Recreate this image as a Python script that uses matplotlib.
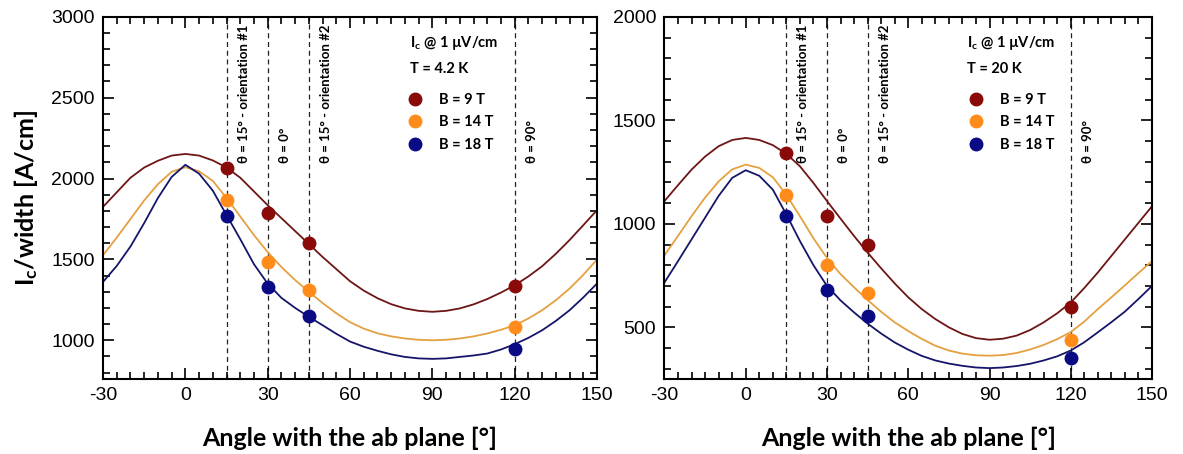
"""Ic/width versus field angle at 4.2 K and 20 K."""

import matplotlib
matplotlib.use("Agg")
import matplotlib.pyplot as plt
from matplotlib.ticker import MultipleLocator

plt.rcParams["font.family"] = ["Liberation Sans", "DejaVu Sans"]
plt.rcParams["axes.unicode_minus"] = False
plt.rcParams["mathtext.fontset"] = "custom"
plt.rcParams["mathtext.rm"] = "Lato"
plt.rcParams["mathtext.bf"] = "Lato:bold"

LABEL_FONT = ["Lato", "DejaVu Sans"]

fields = ["B = 9 T", "B = 14 T", "B = 18 T"]
dot_colors = ["#8a0a0a", "#ff8c1a", "#0a0a85"]
line_colors = ["#6e1515", "#e5a040", "#15156a"]

# measured points
meas_angle = [15, 30, 45, 120]
meas_42K = [
    [2064, 1784, 1599, 1335],
    [1868, 1487, 1308, 1081],
    [1769, 1327, 1153, 947],
]
meas_20K = [
    [1342, 1040, 896, 596],
    [1137, 803, 668, 439],
    [1039, 681, 556, 354],
]

# fitted curves, every 5 degrees from -30 to 150
fit_angle = list(range(-30, 151, 5))
fit_42K = [
    [1825, 1915, 2005, 2068, 2110, 2142, 2152, 2142, 2112, 2068, 2005, 1920, 1835,
     1755, 1675, 1595, 1515, 1440, 1365, 1307, 1260, 1223, 1197, 1182, 1176,
     1182, 1197, 1222, 1255, 1295, 1340, 1395, 1458, 1535, 1620, 1712, 1805],
    [1526, 1635, 1750, 1865, 1965, 2042, 2070, 2045, 1985, 1880, 1765, 1650, 1545,
     1453, 1372, 1300, 1230, 1167, 1112, 1072, 1043, 1024, 1011, 1003, 1000,
     1003, 1011, 1024, 1042, 1065, 1093, 1135, 1186, 1248, 1320, 1405, 1500],
    [1361, 1460, 1580, 1725, 1880, 2010, 2085, 2030, 1925, 1774, 1625, 1470, 1350,
     1262, 1200, 1145, 1093, 1040, 992, 960, 935, 913, 897, 888, 885,
     888, 897, 906, 918, 943, 976, 1015, 1062, 1120, 1186, 1265, 1351],
]
fit_20K = [
    [1110, 1187, 1262, 1325, 1375, 1405, 1415, 1405, 1380, 1338, 1278, 1197, 1110,
     1025, 941, 861, 785, 712, 645, 588, 540, 500, 468, 448, 440,
     445, 460, 487, 524, 568, 620, 690, 765, 845, 925, 1005, 1085],
    [848, 942, 1037, 1127, 1205, 1263, 1286, 1270, 1225, 1140, 1037, 930, 835,
     757, 693, 632, 575, 524, 482, 444, 411, 388, 373, 365, 363,
     366, 376, 393, 415, 443, 477, 528, 588, 645, 703, 762, 820],
    [717, 820, 925, 1030, 1135, 1222, 1259, 1232, 1165, 1045, 917, 800, 700,
     630, 572, 518, 470, 427, 392, 362, 340, 325, 314, 306, 303,
     306, 313, 324, 340, 360, 388, 428, 476, 525, 576, 637, 700],
]

marker_angles = [15, 30, 45, 120]
marker_texts = ["θ = 15° - orientation #1", "θ = 0°", "θ = 15° - orientation #2", "θ = 90°"]

panels = [
    {"fit": fit_42K, "meas": meas_42K, "temp": "T = 4.2 K", "ylim": (760, 3000), "legx": 0.616},
    {"fit": fit_20K, "meas": meas_20K, "temp": "T = 20 K", "ylim": (250, 2000), "legx": 0.624},
]

fig = plt.figure(figsize=(11.83, 4.54), dpi=100)
axes = [
    fig.add_axes([0.0871, 0.165, 0.4176, 0.798]),
    fig.add_axes([0.5617, 0.165, 0.4121, 0.798]),
]

for ax, p in zip(axes, panels):
    for vals, c in zip(p["fit"], line_colors):
        ax.plot(fit_angle, vals, color=c, lw=1.3, zorder=2)
    for vals, c, lab in zip(p["meas"], dot_colors, fields):
        ax.plot(meas_angle, vals, "o", color=c, ms=9, ls="none", label=lab, zorder=3)

    trans = ax.get_xaxis_transform()
    for a, t in zip(marker_angles, marker_texts):
        ax.axvline(a, color="#222222", lw=0.9, ls=(0, (4, 3)), zorder=1)
        ax.annotate(t, xy=(a, 0.596), xycoords=trans, xytext=(8, 0),
                    textcoords="offset points", rotation=90, ha="left", va="bottom",
                    fontsize=9.5, fontweight="bold", family=LABEL_FONT)

    ax.text(0.621, 0.927, r"$\mathbf{I_c}$ @ 1 µV/cm", transform=ax.transAxes,
            ha="left", va="center", fontsize=10.5, fontweight="bold", family=LABEL_FONT)
    ax.text(0.621, 0.856, p["temp"], transform=ax.transAxes,
            ha="left", va="center", fontsize=10.5, fontweight="bold", family=LABEL_FONT)
    ax.legend(loc="upper left", bbox_to_anchor=(p["legx"], 0.79), frameon=False,
              borderpad=0, borderaxespad=0, handlelength=1.0, handletextpad=1.15,
              labelspacing=0.58, prop={"family": LABEL_FONT, "weight": "bold", "size": 10.5})

    ax.set_xlim(-30, 150)
    ax.set_ylim(*p["ylim"])
    ax.xaxis.set_major_locator(MultipleLocator(30))
    ax.xaxis.set_minor_locator(MultipleLocator(5))
    ax.yaxis.set_major_locator(MultipleLocator(500))
    ax.yaxis.set_minor_locator(MultipleLocator(100))
    ax.tick_params(which="both", direction="in", top=True, right=True, width=1.2)
    ax.tick_params(which="major", length=8, labelsize=14, pad=6)
    ax.tick_params(which="minor", length=5)
    for s in ax.spines.values():
        s.set_linewidth(1.5)
    ax.set_xlabel("Angle with the ab plane [°]", fontsize=18, fontweight="bold",
                  family=LABEL_FONT, labelpad=16)

axes[0].set_ylabel(r"$\mathbf{I_c}$/width [A/cm]", fontsize=18, fontweight="bold",
                   family=LABEL_FONT, labelpad=8)

fig.savefig("out.png", dpi=100)
